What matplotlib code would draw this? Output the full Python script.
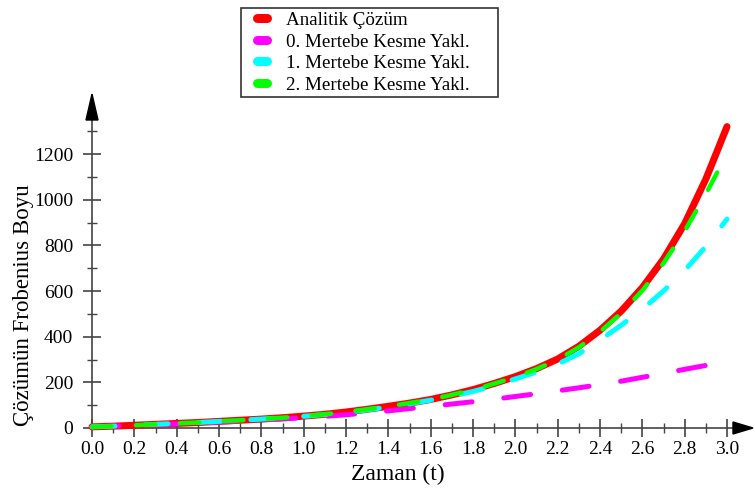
import matplotlib
matplotlib.use("Agg")
import matplotlib.pyplot as plt
from matplotlib.lines import Line2D
from matplotlib.patches import Polygon
from matplotlib.legend_handler import HandlerBase

plt.rcParams['font.family'] = ['Liberation Serif', 'DejaVu Serif']
plt.rcParams['lines.scale_dashes'] = False

# ---- data ----
t_full = [0.0, 0.1, 0.2, 0.3, 0.4, 0.5, 0.6, 0.7, 0.8, 0.9, 1.0, 1.1, 1.2, 1.3, 1.4, 1.5,
          1.6, 1.7, 1.8, 1.9, 2.0, 2.1, 2.2, 2.3, 2.4, 2.5, 2.6, 2.7, 2.8, 2.9, 3.0]
analytic = [5, 8, 12, 16, 20, 24, 29, 34, 39, 45, 52, 60, 70, 82, 95, 109,
            125, 145, 168, 195, 225, 260, 302, 358, 428, 512, 615, 740, 895, 1090, 1320]
order0 = [5, 8, 11, 14, 18, 22, 26, 30, 35, 40, 45, 51, 58, 66, 75, 85,
          95, 105, 115, 126, 138, 150, 163, 176, 190, 205, 222, 239, 257, 274, 292]
order1 = [5, 8, 12, 16, 20, 24, 29, 34, 39, 45, 51, 59, 68, 79, 92, 106,
          122, 140, 160, 185, 215, 245, 280, 325, 385, 450, 520, 600, 690, 795, 915]
order2 = [5, 8, 12, 16, 20, 24, 29, 34, 39, 45, 52, 60, 70, 82, 95, 109,
          125, 145, 167, 194, 223, 258, 299, 353, 421, 503, 602, 722, 862, 1025, 1200]

labels = ["Analitik Çözüm", "0. Mertebe Kesme Yakl.", "1. Mertebe Kesme Yakl.",
          "2. Mertebe Kesme Yakl."]
colors = ["#ff0000", "#ff00ff", "#00ffff", "#00ff00"]
xticks = [0.0, 0.2, 0.4, 0.6, 0.8, 1.0, 1.2, 1.4, 1.6, 1.8, 2.0, 2.2, 2.4, 2.6, 2.8, 3.0]
yticks = [0, 200, 400, 600, 800, 1000, 1200]

W, H = 755, 488
fig = plt.figure(figsize=(W / 100, H / 100), dpi=100)
ax_left, ax_bottom, ax_right, ax_top = 92, 60, 733, 368
ax = fig.add_axes([ax_left / W, ax_bottom / H, (ax_right - ax_left) / W, (ax_top - ax_bottom) / H])
ax.set_xlim(0, (ax_right - ax_left) / 211.67)
ax.set_ylim(0, (ax_top - ax_bottom) / 0.22833)
ax.patch.set_alpha(0)

def px(v):
    return v * 72 / 100

ax.plot(t_full, analytic, color=colors[0], lw=px(7), solid_capstyle='round',
        solid_joinstyle='round', clip_on=False, zorder=3)
l0, = ax.plot(t_full, order0, color=colors[1], lw=px(5), dash_capstyle='round', clip_on=False, zorder=4)
l0.set_dashes((px(27), px(32)))
l1, = ax.plot(t_full, order1, color=colors[2], lw=px(5), dash_capstyle='round', clip_on=False, zorder=5)
l1.set_dashes((px(23), px(30)))
l2, = ax.plot(t_full, order2, color=colors[3], lw=px(4.5), dash_capstyle='round', clip_on=False, zorder=6)
l2.set_dashes((px(19.5), px(24.5)))

axcol = "#444444"
for s in ['top', 'right']:
    ax.spines[s].set_visible(False)
for s in ['left', 'bottom']:
    ax.spines[s].set_color(axcol)
    ax.spines[s].set_linewidth(1.2)

ax.set_xticks(xticks)
ax.set_xticklabels([f"{v:.1f}" for v in xticks])
ax.set_xticks([v / 10 for v in range(1, 31, 2)], minor=True)
ax.set_yticks(yticks)
ax.set_yticks([100, 300, 500, 700, 900, 1100, 1300], minor=True)
ax.tick_params(which='major', direction='inout', length=13, width=1.2, color=axcol,
               labelsize=14, pad=3)
ax.tick_params(which='minor', direction='inout', length=7, width=1.0, color=axcol)
ax.tick_params(axis='y', which='major', pad=7)

ax.set_xlabel("Zaman (t)", fontsize=17)
ax.xaxis.set_label_coords((398 - ax_left) / (ax_right - ax_left), -0.115)
ax.set_ylabel("Çözümün Frobenius Boyu", fontsize=16.5)
ax.yaxis.set_label_coords((34 - ax_left) / (ax_right - ax_left), 0.40)

# axis arrows
def fp(x, y):
    return (x / W, y / H)
fig.patches.append(Polygon([fp(86, 368), fp(98, 368), fp(92, 394)], closed=True,
                           transform=fig.transFigure, color='black'))
fig.patches.append(Polygon([fp(733, 54), fp(733, 66), fp(753, 60)], closed=True,
                           transform=fig.transFigure, color='black'))


class CapsuleHandler(HandlerBase):
    def create_artists(self, legend, orig_handle, xdescent, ydescent, width, height,
                       fontsize, trans):
        y = height / 2 - ydescent
        x0 = -xdescent + width * 0.40
        x1 = -xdescent + width * 0.74
        ln = Line2D([x0, x1], [y, y], color=orig_handle.get_color(),
                    lw=orig_handle.get_linewidth(), solid_capstyle='round')
        ln.set_transform(trans)
        return [ln]


handles = [Line2D([], [], color=c, lw=px(9), solid_capstyle='round') for c in colors]
leg = fig.legend(handles, labels, loc='upper left',
                 bbox_to_anchor=(241 / W, 1 - 95 / H, 257 / W, 87 / H),
                 bbox_transform=fig.transFigure, mode='expand', fontsize=13.7, frameon=True,
                 fancybox=False, handlelength=1.6, handletextpad=0.55, labelspacing=0.22,
                 borderpad=0.2, borderaxespad=0,
                 handler_map={Line2D: CapsuleHandler()})
leg.get_frame().set_edgecolor('black')
leg.get_frame().set_linewidth(1.2)

fig.savefig("out.png", dpi=100)
